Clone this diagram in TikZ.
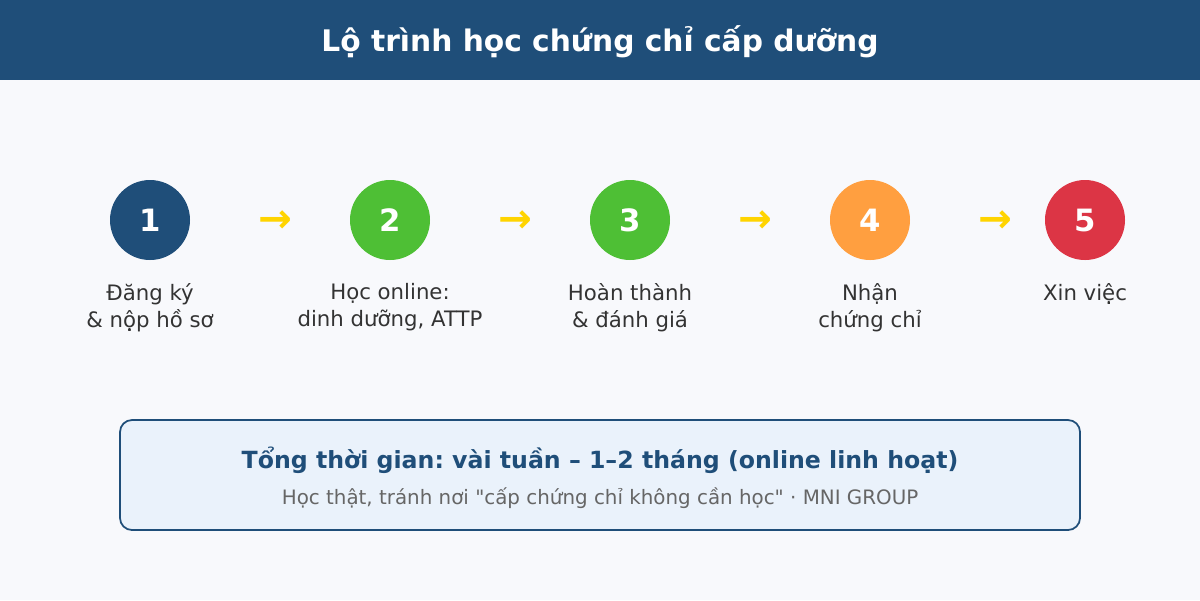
\documentclass[tikz,border=0pt]{standalone}
\usepackage{fontspec}
\setmainfont{DejaVu Sans}[Ligatures=TeXOff]
\usepackage{tikz}
\frenchspacing

\definecolor{navy}{HTML}{1F4E79}
\definecolor{pagebg}{HTML}{F8F9FC}
\definecolor{boxbg}{HTML}{EAF2FB}
\definecolor{stepgreen}{HTML}{4EBF35}
\definecolor{steporange}{HTML}{FF9F40}
\definecolor{stepred}{HTML}{DC3545}
\definecolor{arrowyellow}{HTML}{FFD400}
\definecolor{labelgray}{HTML}{333333}
\definecolor{subgray}{HTML}{666666}

\tikzset{
  stepdot/.style={circle,minimum size=80*0.02cm,inner sep=0pt,text=white,
    font=\fontsize{17.5}{18}\selectfont\bfseries},
  steplabel/.style={align=center,text=labelgray,
    font=\fontsize{12.1}{15.3}\selectfont},
  steparrow/.style={text=arrowyellow,font=\fontsize{23}{24}\selectfont\bfseries}
}

\begin{document}
\begin{tikzpicture}[x=0.02cm,y=-0.02cm]
\fill[pagebg]  (0,0)  rectangle  (1200,600);
\fill[navy]  (0,0)  rectangle  (1200,80);
\node [text=white,font=\fontsize{16.9}{18}\selectfont\bfseries] (title) at (600,42) {Lộ trình học chứng chỉ cấp dưỡng};

\node [stepdot,fill=navy] (s1) at (150,220) {1};
\node [stepdot,fill=stepgreen] (s2) at (390,220) {2};
\node [stepdot,fill=stepgreen] (s3) at (630,220) {3};
\node [stepdot,fill=steporange] (s4) at (870,220) {4};
\node [stepdot,fill=stepred] (s5) at (1085,220) {5};

\node [steparrow] (a1) at (275,222) {→};
\node [steparrow] (a2) at (515,222) {→};
\node [steparrow] (a3) at (755,222) {→};
\node [steparrow] (a4) at (995,222) {→};

\node [steplabel,anchor=north] (l1) at (150,277) {Đăng ký\\\& nộp hồ sơ};
\node [steplabel,anchor=north] (l2) at (390,277) {Học online:\\dinh dưỡng, ATTP};
\node [steplabel,anchor=north] (l3) at (630,277) {Hoàn thành\\\& đánh giá};
\node [steplabel,anchor=north] (l4) at (870,277) {Nhận\\chứng chỉ};
\node [steplabel,anchor=north] (l5) at (1085,277) {Xin việc};

\draw[navy,fill=boxbg,line width=1pt,rounded corners=12*0.02cm]  (120,420)  rectangle  (1080,530);
\node [text=navy,font=\fontsize{13.45}{16}\selectfont\bfseries] (total) at (600,460) {Tổng thời gian: vài tuần – 1–2 tháng (online linh hoạt)};
\node [text=subgray,font=\fontsize{11.3}{12}\selectfont] (note) at (600,498) {Học thật, tránh nơi "cấp chứng chỉ không cần học" · MNI GROUP};
\end{tikzpicture}
\end{document}
